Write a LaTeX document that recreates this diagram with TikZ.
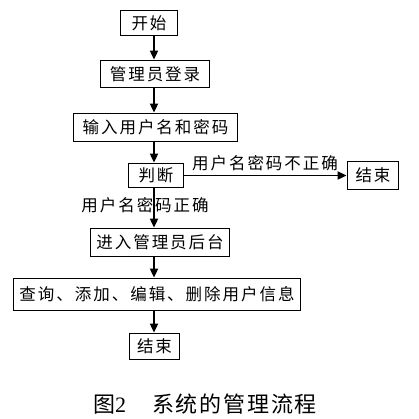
\documentclass[tikz,border=0pt]{standalone}
\usepackage{fontspec}
\newfontfamily\cjk[LetterSpace=12]{Noto Sans CJK SC}
\newfontfamily\cjkcap[LetterSpace=8]{Noto Sans CJK SC}
\newfontfamily\capnum{Liberation Serif}
\usetikzlibrary{arrows.meta}
\begin{document}
\begin{tikzpicture}[x=1pt,y=-1pt,
  box/.style={draw, line width=1.8pt, inner sep=0pt, font=\cjk\fontsize{16.5}{16.5}\selectfont},
  arr/.style={-{Triangle[length=9pt,width=8pt]}, line width=1.8pt},
  lbl/.style={inner sep=0pt, font=\cjk\fontsize{16.5}{16.5}\selectfont}]
\useasboundingbox[fill=white] (0,0) rectangle (419,418);
\coordinate (ax) at (154,0);
\node[box, minimum width=57pt, minimum height=25pt] (start) at (149,23) {开始};
\node[box, minimum width=109pt, minimum height=27pt] (login) at (155,74) {管理员登录};
\node[box, minimum width=164pt, minimum height=28pt] (input) at (155.5,127.5) {输入用户名和密码};
\node[box, minimum width=55pt, minimum height=24pt] (judge) at (156,175.5) {判断};
\node[box, minimum width=51pt, minimum height=28pt] (end1) at (373,175.5) {结束};
\node[box, minimum width=139pt, minimum height=28pt] (enter) at (160,242.5) {进入管理员后台};
\node[box, minimum width=287pt, minimum height=32pt] (ops) at (157,294.5) {查询、添加、编辑、删除用户信息};
\node[box, minimum width=50pt, minimum height=26pt] (end2) at (154.5,346.5) {结束};
\draw[arr] (start.south -| ax) -- (login.north -| ax);
\draw[arr] (login.south -| ax) -- (input.north -| ax);
\draw[arr] (input.south -| ax) -- (judge.north -| ax);
\draw[arr] (judge.east) -- (judge.east -| end1.west);
\draw[arr] (judge.south -| ax) -- (enter.north -| ax);
\draw[arr] (enter.south -| ax) -- (ops.north -| ax);
\draw[arr] (ops.south -| ax) -- (end2.north -| ax);
\node[lbl] (l1) at (265,163) {用户名密码不正确};
\node[lbl] (l2) at (145,205) {用户名密码正确};
\node[inner sep=0pt, font=\fontsize{22}{22}\selectfont] (cap) at (205,404) {{\cjkcap 图}{\capnum 2}\hspace{26pt}{\cjkcap 系统的管理流程}};
\end{tikzpicture}
\end{document}
